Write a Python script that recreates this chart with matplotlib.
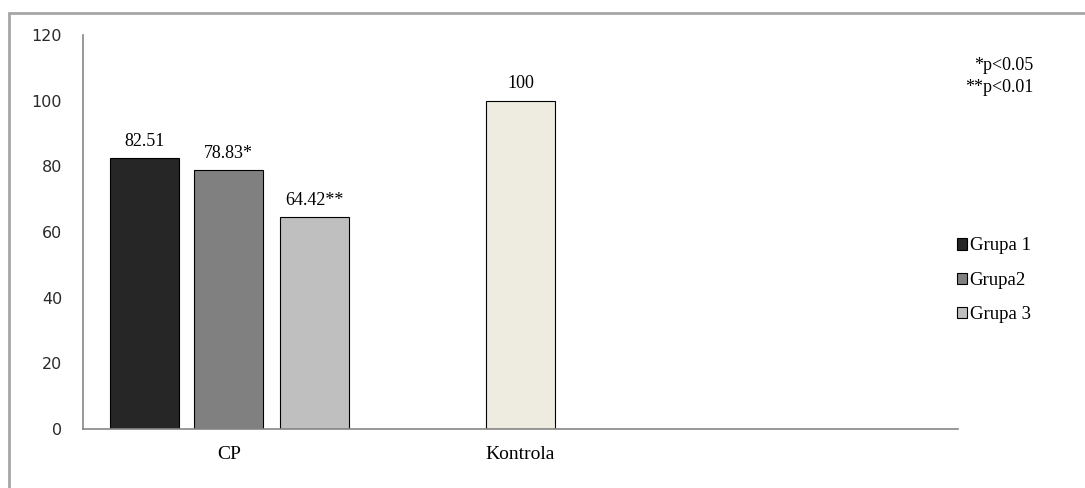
import matplotlib
matplotlib.use('Agg')
import matplotlib.pyplot as plt
import matplotlib.patches as patches

# data
categories = ['CP', 'Kontrola']
group_names = ['Grupa 1', 'Grupa2', 'Grupa 3']
group_values = [82.51, 78.83, 64.42]
group_labels = ['82.51', '78.83*', '64.42**']
control_value = 100
control_label = '100'
note_lines = ['*p<0.05', '**p<0.01']
y_ticks = [0, 20, 40, 60, 80, 100, 120]

group_colors = ['#262626', '#808080', '#bfbfbf']
control_color = '#eeece1'
axis_color = '#868686'
SERIF = ['Liberation Serif', 'DejaVu Serif']

fig = plt.figure(figsize=(10.85, 4.88), dpi=100)
ax = fig.add_axes([83 / 1085, 1 - 429 / 488, 875 / 1085, 394 / 488])

cat_pos = [0.5, 1.5]
offsets = [-0.29, 0.0, 0.295]
width = 0.237

handles = []
for i, (name, val, lab) in enumerate(zip(group_names, group_values, group_labels)):
    x = cat_pos[0] + offsets[i]
    b = ax.bar(x, val, width, color=group_colors[i], edgecolor='black', linewidth=0.8, label=name)
    handles.append(b)
    ax.annotate(lab, (x, val), xytext=(0, 6), textcoords='offset points',
                ha='center', va='bottom', family=SERIF, fontsize=13)

ax.bar(cat_pos[1], control_value, width, color=control_color, edgecolor='black', linewidth=0.8)
ax.annotate(control_label, (cat_pos[1], control_value), xytext=(0, 6), textcoords='offset points',
            ha='center', va='bottom', family=SERIF, fontsize=13)

ax.set_xlim(0, 3)
ax.set_ylim(0, 120)
ax.set_yticks(y_ticks)
ax.set_yticklabels([str(t) for t in y_ticks], family='DejaVu Sans', fontsize=11.5, color='#2a2a2a')
ax.set_xticks(cat_pos)
ax.set_xticklabels(categories, family=SERIF, fontsize=14)
ax.tick_params(axis='y', length=0, pad=15)
ax.tick_params(axis='x', length=0, pad=12)

for side in ['top', 'right']:
    ax.spines[side].set_visible(False)
for side in ['left', 'bottom']:
    ax.spines[side].set_color(axis_color)
    ax.spines[side].set_linewidth(1.2)

leg = fig.legend(handles=handles, labels=group_names, loc='upper left',
                 bbox_to_anchor=(949 / 1085, 1 - 230 / 488), frameon=False,
                 prop={'family': SERIF, 'size': 13.5}, handlelength=0.55, handleheight=0.55,
                 handletextpad=0.15, labelspacing=0.93, borderaxespad=0)

fig.text(1033 / 1085, 1 - 66 / 488, note_lines[0], ha='right', va='center', family=SERIF, fontsize=13)
fig.text(1033 / 1085, 1 - 87 / 488, note_lines[1], ha='right', va='center', family=SERIF, fontsize=13)

# outer chart frame, cut at the right and bottom edges
frame = patches.Rectangle((9 / 1085, -0.1), 1.2, 1 - 13 / 488 + 0.1, transform=fig.transFigure,
                          fill=False, edgecolor='#a6a6a6', linewidth=2, clip_on=False)
fig.patches.append(frame)

fig.savefig('out.png', dpi=100)
